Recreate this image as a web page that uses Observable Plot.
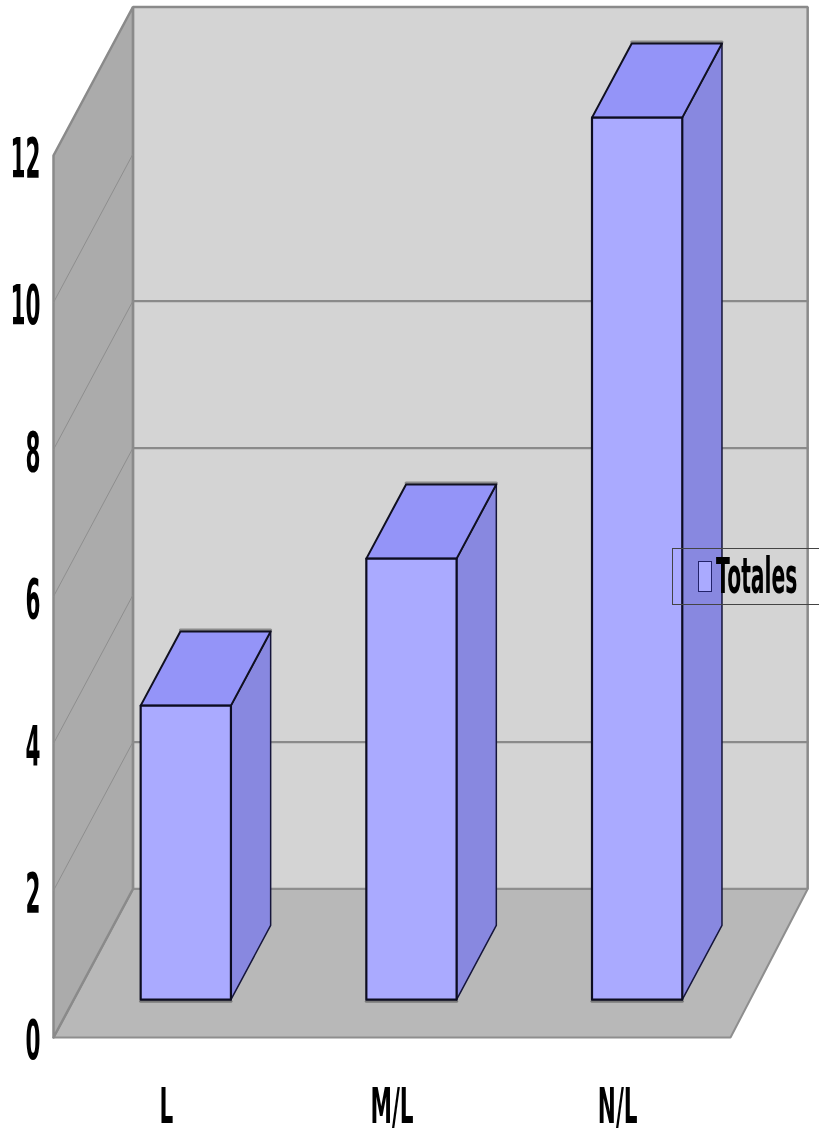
<!DOCTYPE html>
<html>
<head>
<meta charset="utf-8">
<script src="https://cdn.jsdelivr.net/npm/d3@7"></script>
<script src="https://cdn.jsdelivr.net/npm/@observablehq/plot@0.6"></script>
<style>
html,body{margin:0;padding:0;background:#fff;overflow:hidden;width:819px;height:1134px}
#chart{position:absolute;left:0;top:0}
#chart svg{display:block;filter:blur(0.5px)}
#legend{position:absolute;left:672px;top:548px;width:160px;height:55px;border:1px solid #444;box-sizing:content-box;filter:blur(0.3px)}
#swatch{position:absolute;left:25px;top:12px;width:12px;height:29px;background:#aaaaff;border:1px solid #22226a}
#ltext{position:absolute;left:43px;top:-1px;font:bold 49px "DejaVu Sans";color:#000;transform:scaleX(0.415);transform-origin:left top;white-space:nowrap;line-height:57px}
</style>
</head>
<body>
<div id="chart"></div>
<div id="legend"><span id="swatch"></span><span id="ltext">Totales</span></div>
<script>
const categories = ["L", "M/L", "N/L"];
const totals = [4, 6, 12];
const yTicks = [0, 2, 4, 6, 8, 10, 12];
const sideGridValues = [2, 4, 6, 8, 10];
const backGridValues = [2, 6, 8];
const wallTop = 12;

// oblique projection: depth z (0..1) shifts right and up
const depthX = 0.352, depthY = 2.02;
const P = (x, y, z) => ({X: x + depthX * z, Y: y + depthY * z});
const poly = (face, pts) => pts.map(([x, y, z]) => ({face, ...P(x, y, z)}));

const n = categories.length, nBack = n - 0.01;
const backWall = poly("back", [[0,0,1],[nBack,0,1],[nBack,wallTop,1],[0,wallTop,1],[0,0,1]]);
const sideWall = poly("side", [[0,0,0],[0,0,1],[0,wallTop,1],[0,wallTop,0],[0,0,0]]);
const floor = poly("floor", [[0,0,0],[n,0,0],[nBack,0,1],[0,0,1],[0,0,0]]);
const sideGrid = sideGridValues.flatMap(v => poly("s" + v, [[0,v,0],[0,v,1]]));
const backGrid = backGridValues.flatMap(v => poly("b" + v, [[0,v,1],[nBack,v,1]]));

const barW = 0.4, zF = 0.255, zB = 0.755, barShift = 0.4965;
const fronts = [], sides = [], tops = [], backEdges = [], baseEdges = [];
categories.forEach((c, i) => {
  const a = i + barShift - barW / 2, b = i + barShift + barW / 2, v = totals[i];
  fronts.push(...poly(c, [[a,0,zF],[b,0,zF],[b,v,zF],[a,v,zF],[a,0,zF]]));
  sides.push(...poly(c, [[b,0,zF],[b,0,zB],[b,v,zB],[b,v,zF],[b,0,zF]]));
  tops.push(...poly(c, [[a,v,zF],[b,v,zF],[b,v,zB],[a,v,zB],[a,v,zF]]));
  backEdges.push(...poly(c, [[a,v,zB],[b,v,zB]]));
  baseEdges.push(...poly(c, [[a,0,zF],[b,0,zF]]));
});
const tickRows = yTicks.map(v => ({v}));
const catRows = categories.map((c, i) => ({c, x: i + 0.5}));
const lineOpts = {x: "X", y: "Y", z: "face"};

const plot = Plot.plot({
  width: 819,
  height: 1134,
  x: {type: "linear", domain: [0, 3], range: [53, 730], axis: null},
  y: {type: "linear", domain: [0, 12], range: [1037, 155], axis: null},
  marks: [
    Plot.line(backWall, {...lineOpts, fill: "#d4d4d4", stroke: "#8a8a8a", strokeWidth: 2.5, strokeLinejoin: "miter"}),
    Plot.line(floor, {...lineOpts, fill: "#b8b8b8", stroke: "#8e8e8e", strokeWidth: 2, strokeLinejoin: "miter"}),
    Plot.line(sideWall, {...lineOpts, fill: "#ababab", stroke: "#8a8a8a", strokeWidth: 2.5, strokeLinejoin: "miter"}),
    Plot.line(backGrid, {...lineOpts, stroke: "#8a8a8a", strokeWidth: 2.2}),
    Plot.line(sideGrid, {...lineOpts, stroke: "#8e8e8e", strokeWidth: 1}),
    Plot.line(backEdges, {...lineOpts, stroke: "#8c8c8c", strokeWidth: 3, dy: -1.5}),
    Plot.line(baseEdges, {...lineOpts, stroke: "#7a7a7a", strokeWidth: 3, dy: 1.5}),
    Plot.line(sides, {...lineOpts, fill: "#8888e0", stroke: "#15153a", strokeWidth: 1.5, strokeLinejoin: "round"}),
    Plot.line(tops, {...lineOpts, fill: "#9494f8", stroke: "#101020", strokeWidth: 2, strokeLinejoin: "round"}),
    Plot.line(fronts, {...lineOpts, fill: "#aaaaff", stroke: "#0c0c20", strokeWidth: 2.2, strokeLinejoin: "round"}),
    Plot.text(tickRows, {x: () => 0, y: "v", text: d => String(d.v), dx: -13, dy: 3.5, textAnchor: "end", lineAnchor: "middle",
      fontFamily: "DejaVu Sans", fontWeight: "bold", fontSize: 56, fill: "#000", className: "ylab"}),
    Plot.text(catRows, {x: "x", y: () => 0, text: "c", dy: 69, textAnchor: "middle", lineAnchor: "middle",
      fontFamily: "DejaVu Sans", fontWeight: "bold", fontSize: 50, fill: "#000", className: "xlab"})
  ]
});
plot.style.background = "transparent";
const squeeze = (sel, sx) => plot.querySelectorAll(sel + " text").forEach(t => {
  t.setAttribute("transform", (t.getAttribute("transform") || "") + ` scale(${sx},1)`);
});
squeeze(".ylab", 0.385);
squeeze(".xlab", 0.432);
document.getElementById("chart").appendChild(plot);
</script>
</body>
</html>
